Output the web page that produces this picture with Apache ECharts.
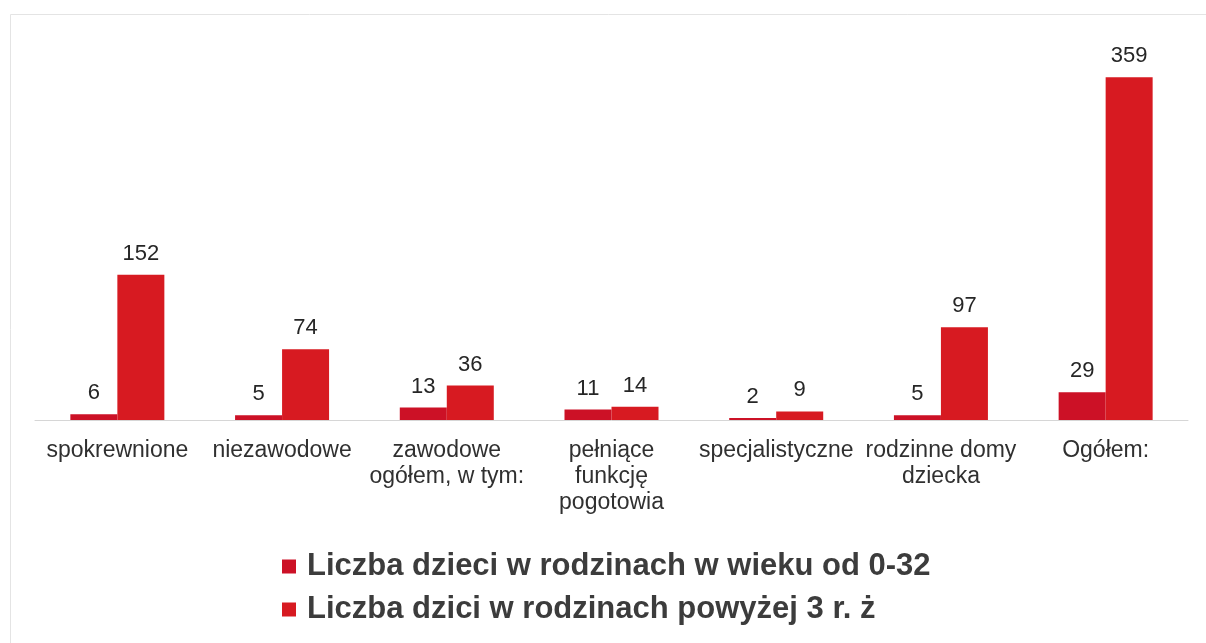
<!DOCTYPE html>
<html>
<head>
<meta charset="utf-8">
<script src="https://cdn.jsdelivr.net/npm/echarts@6/dist/echarts.min.js"></script>
<style>
  html, body { margin: 0; padding: 0; background: #ffffff; }
  #chart { width: 1206px; height: 643px; }
</style>
</head>
<body>
<div id="chart"></div>
<script>
// Categories of family foster care
const categories = [
  'spokrewnione',
  'niezawodowe',
  'zawodowe\nogółem, w tym:',
  'pełniące\nfunkcję\npogotowia',
  'specjalistyczne',
  'rodzinne domy\ndziecka',
  'Ogółem:'
];

// Number of children per category
const seriesNames = [
  'Liczba dzieci w rodzinach w wieku od 0-32',
  'Liczba dzici w rodzinach powyżej 3 r. ż'
];
const childrenYoung = [6, 5, 13, 11, 2, 5, 29];
const childrenOlder = [152, 74, 36, 14, 9, 97, 359];

const chart = echarts.init(document.getElementById('chart'), null, { renderer: 'canvas' });

const fontFamily = 'Liberation Sans, Arial, sans-serif';

const valueLabel = {
  show: true,
  position: 'top',
  distance: 10,
  fontFamily: fontFamily,
  fontSize: 22,
  color: '#262626'
};

chart.setOption({
  backgroundColor: '#ffffff',
  animation: false,
  graphic: [{
    type: 'rect',
    left: 8,
    top: 12,
    shape: { width: 1210, height: 640 },
    style: { fill: 'none', stroke: '#e4e4e4', lineWidth: 1 },
    silent: true
  }],
  grid: { left: 35, right: 18, top: 38, bottom: 223 },
  legend: {
    orient: 'vertical',
    left: 277,
    top: 546,
    itemWidth: 14,
    itemHeight: 14,
    itemGap: 12,
    icon: 'rect',
    textStyle: {
      fontFamily: fontFamily,
      fontSize: 31,
      fontWeight: 'bold',
      color: '#3c3c3c',
      padding: [0, 0, 0, 6]
    },
    data: seriesNames
  },
  xAxis: {
    type: 'category',
    data: categories,
    axisLine: { show: true, lineStyle: { color: '#d6d6d6', width: 1 } },
    axisTick: { show: false },
    axisLabel: {
      interval: 0,
      margin: 18,
      fontFamily: fontFamily,
      fontSize: 23,
      color: '#303030',
      lineHeight: 26
    }
  },
  yAxis: {
    type: 'value',
    min: 0,
    max: 400,
    interval: 100,
    show: false,
    splitLine: { show: false }
  },
  series: [
    {
      name: seriesNames[0],
      type: 'bar',
      data: childrenYoung,
      barWidth: 47,
      barGap: '0%',
      itemStyle: { color: '#cc1126' },
      label: valueLabel
    },
    {
      name: seriesNames[1],
      type: 'bar',
      data: childrenOlder,
      barWidth: 47,
      barGap: '0%',
      itemStyle: { color: '#d71a21' },
      label: valueLabel
    }
  ]
});
</script>
</body>
</html>
